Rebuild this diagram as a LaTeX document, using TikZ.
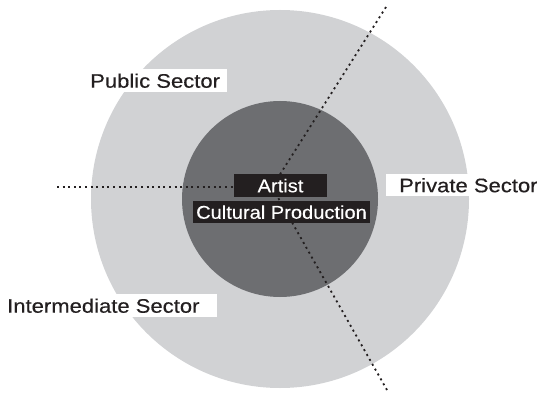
\documentclass[tikz,border=0pt]{standalone}
\usepackage{fontspec}
\setmainfont{Liberation Sans}
\newfontfamily\outerfont[FakeStretch=1.13,FakeBold=0.4]{Liberation Sans}
\newfontfamily\boxfont[FakeStretch=1.085,FakeBold=0.4]{Liberation Sans}
\definecolor{ringgray}{HTML}{D1D2D4}
\definecolor{coregray}{HTML}{6D6E71}
\definecolor{inkblack}{HTML}{231F20}
\tikzset{
  ring/.style={circle, fill=ringgray, inner sep=0pt},
  core/.style={circle, fill=coregray, inner sep=0pt},
  dotline/.style={draw=inkblack, line width=1.8pt, dash pattern=on 2pt off 3.6pt},
  blackbox/.style={fill=inkblack, text=white, inner sep=0pt,
    font=\boxfont\fontsize{18.5}{20}\selectfont, text height=13.5pt, text depth=0pt},
  sectorlabel/.style={fill=white, text=inkblack, inner sep=0pt,
    font=\outerfont\fontsize{19.5}{21}\selectfont, text height=14pt, text depth=0pt, anchor=north west}
}
\begin{document}
\begin{tikzpicture}[x=1pt,y=-1pt]
\useasboundingbox (0,0) rectangle (537,395);
\node[ring, minimum size=378pt] (outer) at (280,199) {};
\node[core, minimum size=196pt] (inner) at (280,199) {};
\coordinate (hub) at (272,187);
\coordinate (leftend) at (57,187);
\coordinate (topend) at (386,7);
\coordinate (bottomend) at (387,390);
\draw[dotline] (leftend) -- (hub);
\draw[dotline] (topend) -- (hub);
\draw[dotline] (bottomend) -- (hub);
\node[blackbox, minimum width=93pt, minimum height=23pt] (artist) at (280.5,185.5) {Artist};
\node[blackbox, minimum width=177pt, minimum height=22pt] (cultural) at (281.5,212) {Cultural Production};
\node[sectorlabel, minimum height=23pt] (public) at (88,69) {\makebox[139pt][l]{\hspace*{2pt}Public Sector}};
\node[sectorlabel, minimum height=23pt] (intermediate) at (5,294) {\makebox[212pt][l]{\hspace*{2pt}Intermediate Sector}};
\node[sectorlabel, minimum height=22pt] (private) at (386,174) {\makebox[151pt][l]{\hspace*{13pt}Private Sector}};
\end{tikzpicture}
\end{document}
